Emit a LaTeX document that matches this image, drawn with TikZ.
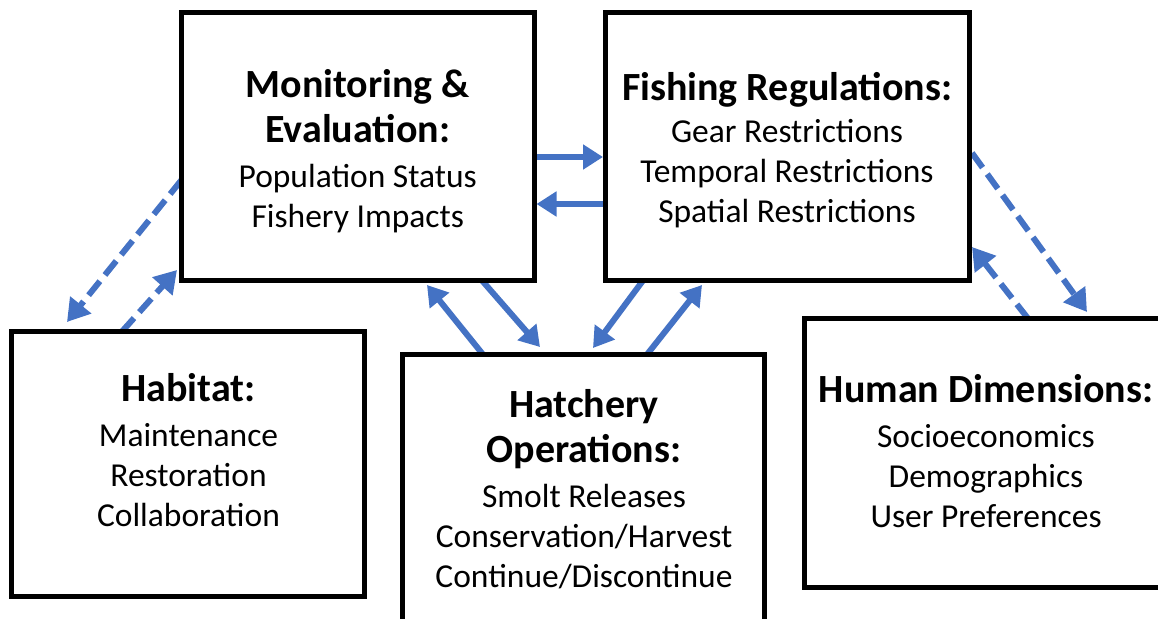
\documentclass[tikz,border=0pt]{standalone}
\usepackage{fontspec}
\setmainfont{Carlito}
\usetikzlibrary{arrows.meta,calc,backgrounds}
\definecolor{arrowblue}{HTML}{4472C4}
\newcommand{\ttl}{\fontsize{40}{40}\selectfont\bfseries}
\newcommand{\bdy}{\fontsize{33.5}{40}\selectfont}
\begin{document}
\begin{tikzpicture}[x=1pt,y=-1pt,
  box/.style={draw=black, line width=5pt, fill=white, inner sep=0pt, outer sep=0pt},
  lbl/.style={align=center, font=\bdy, anchor=base, inner sep=0pt},
  link/.style={draw=arrowblue, line width=6pt, -{Triangle[length=20pt,width=24pt]}},
  dlink/.style={link, dash pattern=on 18pt off 8pt, -{Triangle[length=22pt,width=26pt]}}]
\useasboundingbox (0,0) rectangle (1158,618);
% boxes
\node[box, minimum width=352.5pt, minimum height=267.5pt] (me) at (357.75,146.75) {};
\node[box, minimum width=363.5pt, minimum height=267.5pt] (fr) at (787.25,146.75) {};
\node[box, minimum width=353pt, minimum height=265pt] (hab) at (188,464) {};
\node[box, minimum width=362pt, minimum height=273.5pt] (hat) at (583.5,491.25) {};
\node[box, minimum width=362.5pt, minimum height=269pt] (hd) at (985.75,453) {};
% texts (anchored at the baseline of the last line)
\node[lbl] (me-t) at (357.75,227) {{\ttl Monitoring \&}\\[5pt]{\ttl Evaluation:}\\[5pt]Population Status\\Fishery Impacts};
\node[lbl] (fr-t) at (787,222) {{\ttl Fishing Regulations:}\\[2pt]Gear Restrictions\\Temporal Restrictions\\Spatial Restrictions};
\node[lbl] (hab-t) at (188.5,526) {{\ttl Habitat:}\\[5pt]Maintenance\\Restoration\\Collaboration};
\node[lbl] (hat-t) at (584,587) {{\ttl Hatchery}\\[5pt]{\ttl Operations:}\\[5pt]Smolt Releases\\Conservation/Harvest\\Continue/Discontinue};
\node[lbl] (hd-t) at (986,527) {{\ttl Human Dimensions:}\\[5pt]Socioeconomics\\Demographics\\User Preferences};
% connectors
\begin{scope}[on background layer]
\draw[dlink] ($(me.west)+(0,33.25)$) -- ($(hab.north west)+(55.5,-9.5)$);
\draw[dlink] ($(hab.north west)+(110.5,0)$) -- ($(me.south west)+(-4.5,-10.5)$);
\draw[link] ($(me.east)+(0,10.25)$) -- ($(fr.west)+(-2.5,10.25)$);
\draw[link] ($(fr.west)+(0,57.25)$) -- ($(me.east)+(2.5,57.25)$);
\draw[link] ($(hat.north west)+(80.5,0)$) -- ($(me.south west)+(245.5,4.5)$);
\draw[link] ($(me.south west)+(300.5,0)$) -- ($(hat.north west)+(137.5,-7.5)$);
\draw[link] ($(fr.south west)+(37.5,0)$) -- ($(hat.north west)+(190.5,-6.5)$);
\draw[link] ($(hat.north west)+(244.5,0)$) -- ($(fr.south west)+(96.5,4.5)$);
\draw[dlink] ($(fr.east)+(3,6.25)$) -- ($(hd.north west)+(282.5,-6.5)$);
\draw[dlink] ($(hd.north west)+(223.5,0)$) -- ($(fr.east)+(3,100.25)$);
\end{scope}
\end{tikzpicture}
\end{document}
